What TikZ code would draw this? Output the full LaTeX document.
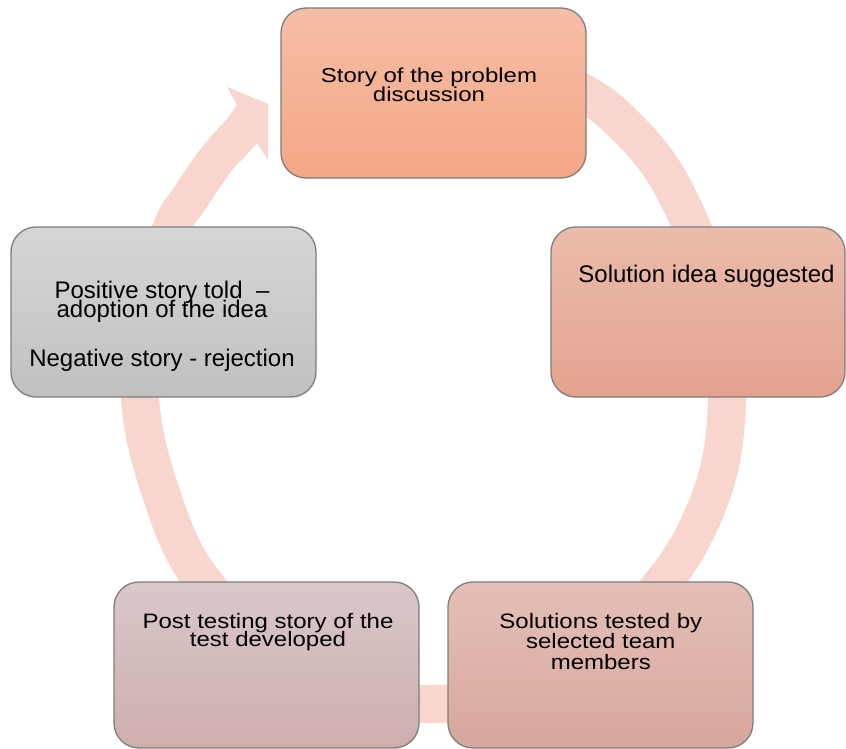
\documentclass[tikz,border=0pt]{standalone}
\usepackage{fontspec}
\setmainfont{Liberation Sans}
\usepackage{graphicx}

% Stack centred lines with a fixed baseline distance, optionally squeezed vertically.
% #1 vertical scale, #2 baseline skip, #3 lines separated by \cr
\newcommand\stacklines[3]{\scalebox{1}[#1]{\vtop{\fontsize{24}{#2}\selectfont
  \lineskiplimit=-\maxdimen\halign{\hfil##\hfil\cr#3\crcr}}}}

\definecolor{ringpink}{RGB}{248,214,206}
\definecolor{boxline}{RGB}{125,125,125}
\definecolor{topA}{RGB}{246,190,166}
\definecolor{topB}{RGB}{244,166,133}
\definecolor{rightA}{RGB}{235,188,171}
\definecolor{rightB}{RGB}{228,162,144}
\definecolor{leftA}{RGB}{214,214,214}
\definecolor{leftB}{RGB}{192,192,192}
\definecolor{blA}{RGB}{217,200,200}
\definecolor{blB}{RGB}{205,174,173}
\definecolor{brA}{RGB}{228,191,183}
\definecolor{brB}{RGB}{215,167,155}

\tikzset{
  stage/.style={draw=boxline, line width=1.3pt, rounded corners=25pt,
    inner sep=0pt, minimum width=305pt, minimum height=170pt},
  ringband/.style={draw=ringpink, line width=38pt, line cap=butt, line join=round},
  label/.style={anchor=base, inner sep=0pt, text=black}
}

\begin{document}
\begin{tikzpicture}[x=1pt, y=-1pt]
\useasboundingbox (0,0) rectangle (846,749);

% cycle band running behind the stages, ending in an arrowhead
\draw[ringband] plot[smooth, tension=0.6] coordinates {
  (545,76) (576,89) (613,114) (660,166) (695,235) (718,310) (727,400)
  (713,490) (665,580) (570,670) (433,704) (300,672) (202,580)
  (160,490) (140,397) (150,300) (172,227) (190,198) (216,160) (240,133)};
\fill[ringpink] (222,126) -- (237,105) -- (227,87) -- (268,104) -- (268,160)
  -- (257,143) -- (240,162) -- cycle;

% stages
\node[stage, top color=topA, bottom color=topB] (s1) at (433.5,93) {};
\node[stage, minimum width=294pt, top color=rightA, bottom color=rightB] (s2) at (698,312) {};
\node[stage, minimum height=166pt, top color=brA, bottom color=brB] (s3) at (600.5,665) {};
\node[stage, minimum height=166pt, top color=blA, bottom color=blB] (s4) at (266.5,665) {};
\node[stage, top color=leftA, bottom color=leftB] (s5) at (163.5,312) {};

% stage texts
\node[label] (t1) at (429,82.7) {\stacklines{0.84}{22.6}{Story of the problem\cr discussion}};
\node[label] (t2) at (706.5,282.7) {\stacklines{1}{22}{Solution idea suggested}};
\node[label] (t3) at (600.8,628.3) {\stacklines{0.87}{23.6}{Solutions tested by\cr selected team\cr members}};
\node[label] (t4) at (268,628.3) {\stacklines{0.87}{21.2}{Post testing story of the\cr test developed}};
\node[label] (t5) at (162,298.3) {\stacklines{1}{19.4}{Positive story told\ \ –\cr adoption of the idea\cr\noalign{\vskip 28.9pt} Negative story - rejection}};
\end{tikzpicture}
\end{document}
